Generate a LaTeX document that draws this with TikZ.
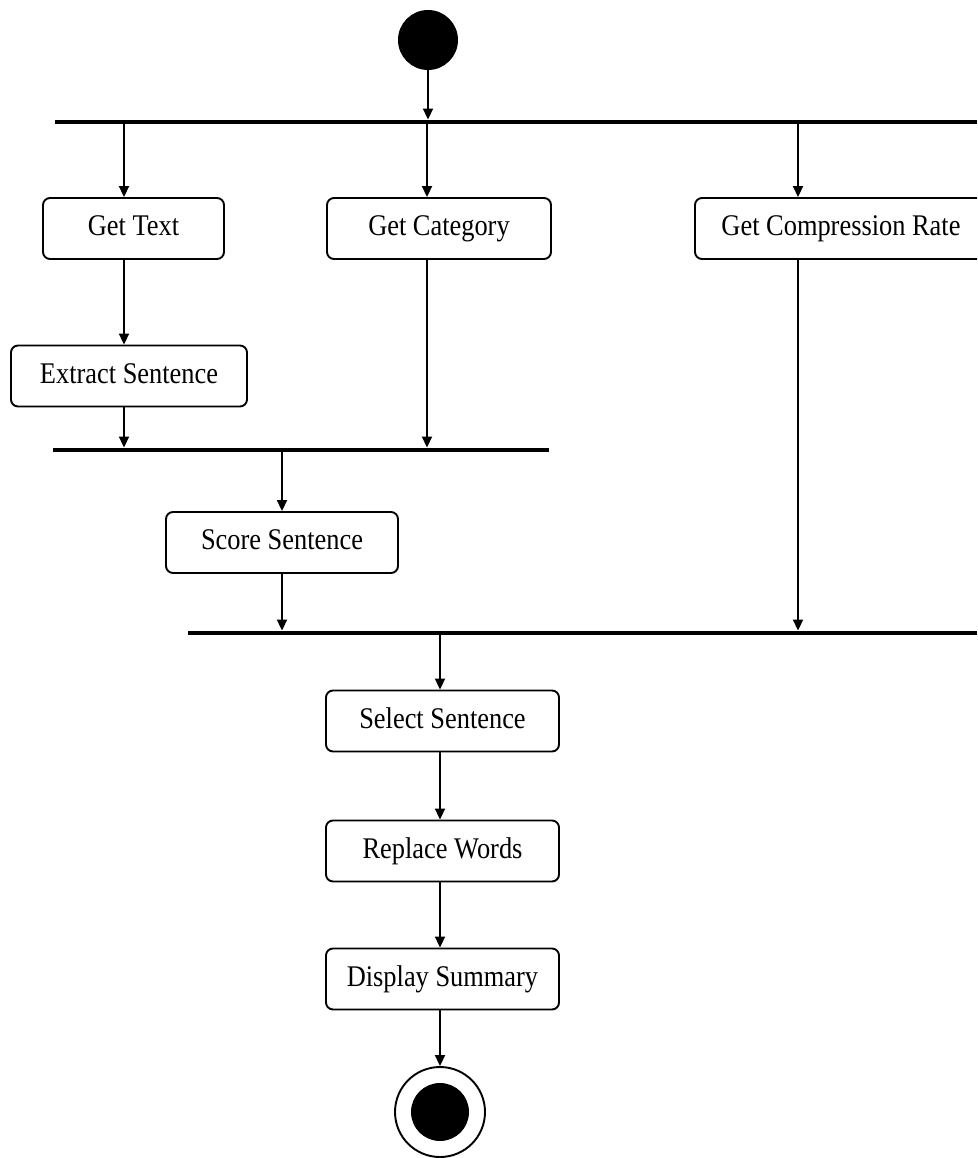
\documentclass[tikz,border=0pt]{standalone}
\usepackage{fontspec}
\setmainfont{Liberation Serif}[FakeStretch=0.88]
\usetikzlibrary{arrows.meta}
\begin{document}
\begin{tikzpicture}[x=1pt,y=-1pt,
  action/.style={draw=black,line width=1.9pt,rounded corners=7pt,fill=white,
    minimum height=61pt,inner sep=0pt,text height=20pt,text depth=6pt,
    font=\fontsize{30}{34}\selectfont},
  syncbar/.style={fill=black,draw=none,inner sep=0pt,minimum height=4.5pt},
  flow/.style={line width=1.9pt,-{Triangle[length=11pt,width=10pt]}},
  startnode/.style={circle,fill=black,inner sep=0pt,minimum size=60pt},
  endring/.style={circle,draw=black,line width=1.9pt,fill=white,inner sep=0pt,minimum size=90pt},
  enddot/.style={circle,fill=black,inner sep=0pt,minimum size=58pt}]
\useasboundingbox (0,0) rectangle (977,1158);
\clip (0,0) rectangle (977,1158);

% initial and final states
\node[startnode] (start) at (428,40) {};
\node[endring] (finish) at (440,1112) {};
\node[enddot] (finishdot) at (440,1112) {};

% fork / join bars
\node[syncbar,minimum width=922pt] (fork) at (516,122) {};
\node[syncbar,minimum width=496pt] (joinA) at (301,450) {};
\node[syncbar,minimum width=789pt] (joinB) at (582.5,633) {};

% actions
\node[action,minimum width=181pt] (gettext) at (133.5,228.5) {Get Text};
\node[action,minimum width=224pt] (getcat) at (439,228.5) {Get Category};
\node[action,minimum width=292pt] (getrate) at (841,228.5) {Get Compression Rate};
\node[action,minimum width=236pt] (extract) at (129,376) {Extract Sentence};
\node[action,minimum width=232pt] (score) at (282,542.5) {Score Sentence};
\node[action,minimum width=233pt] (select) at (442.5,721) {Select Sentence};
\node[action,minimum width=233pt] (replace) at (442.5,851) {Replace Words};
\node[action,minimum width=233pt] (display) at (442.5,979) {Display Summary};

% flow columns
\coordinate (colA) at (124,0);
\coordinate (colB) at (427,0);
\coordinate (colC) at (798,0);
\coordinate (colD) at (282,0);
\coordinate (colE) at (440,0);

% transitions
\draw[flow] (start.south) -- (fork.north -| start.south);
\draw[flow] (fork.south -| colA) -- (gettext.north -| colA);
\draw[flow] (fork.south -| colB) -- (getcat.north -| colB);
\draw[flow] (fork.south -| colC) -- (getrate.north -| colC);
\draw[flow] (gettext.south -| colA) -- (extract.north -| colA);
\draw[flow] (extract.south -| colA) -- (joinA.north -| colA);
\draw[flow] (getcat.south -| colB) -- (joinA.north -| colB);
\draw[flow] (joinA.south -| colD) -- (score.north -| colD);
\draw[flow] (score.south -| colD) -- (joinB.north -| colD);
\draw[flow] (getrate.south -| colC) -- (joinB.north -| colC);
\draw[flow] (joinB.south -| colE) -- (select.north -| colE);
\draw[flow] (select.south -| colE) -- (replace.north -| colE);
\draw[flow] (replace.south -| colE) -- (display.north -| colE);
\draw[flow] (display.south -| colE) -- (finish.north);
\end{tikzpicture}
\end{document}
